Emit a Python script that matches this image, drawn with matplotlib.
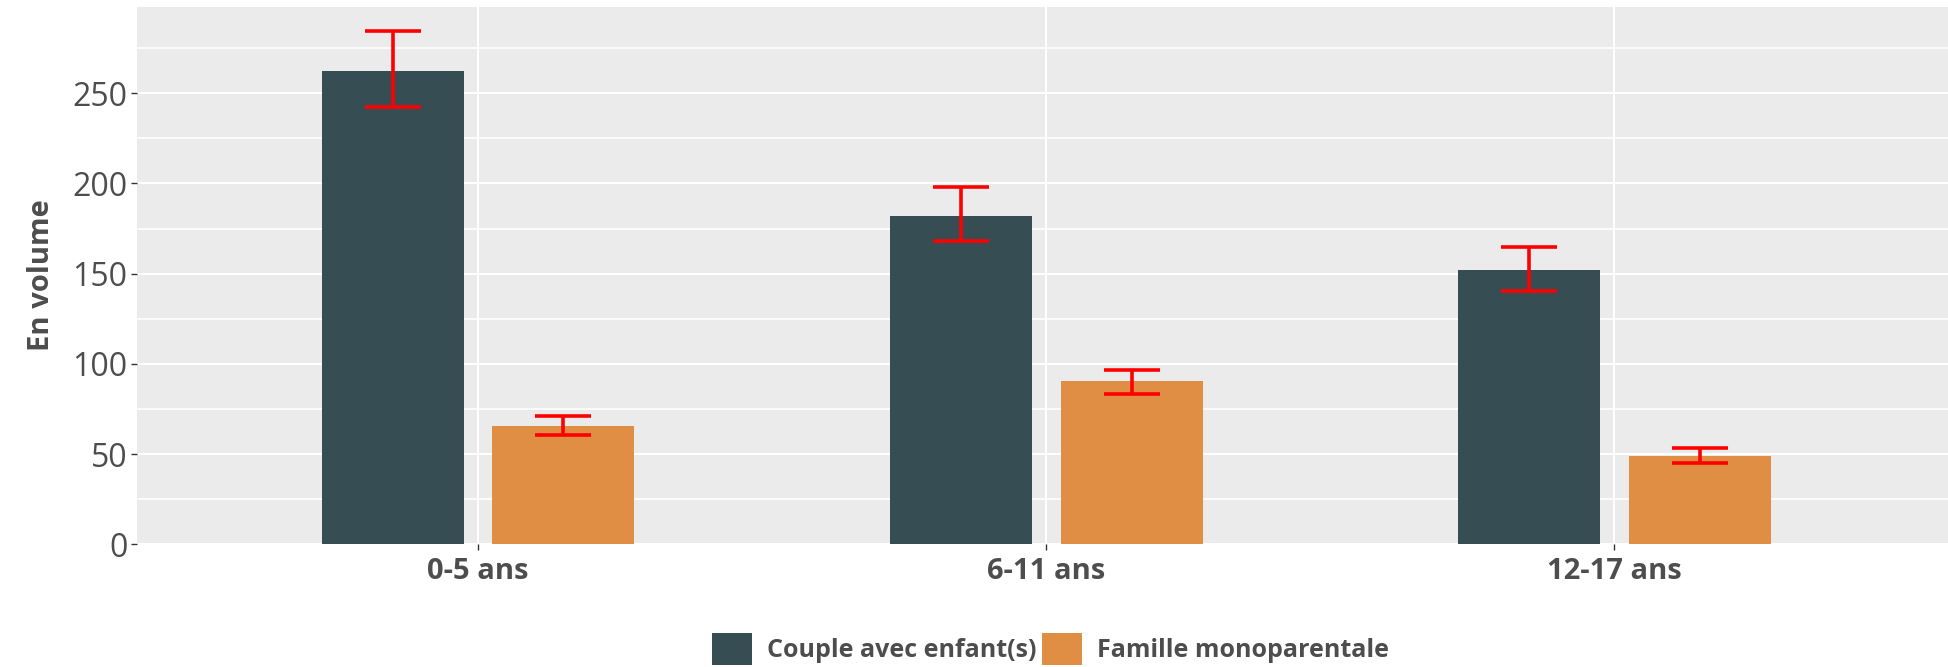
import matplotlib.pyplot as plt
import numpy as np
from matplotlib.patches import Patch

# Data
categories = ['0-5 ans', '6-11 ans', '12-17 ans']
series_names = ['Couple avec enfant(s)', 'Famille monoparentale']
couple = [262.5, 182.0, 152.3]
couple_low = [242.2, 168.0, 140.3]
couple_high = [284.5, 197.9, 164.8]
mono = [65.4, 90.4, 48.9]
mono_low = [60.6, 83.3, 45.1]
mono_high = [70.9, 96.6, 53.3]

colors = ['#374D54', '#DF8E44']
font = ['Open Sans', 'DejaVu Sans']
text_col = '#4D4D4D'

fig = plt.figure(figsize=(19.49, 6.67), dpi=100)
# panel placed to match the reference (slightly wider than the figure on the right)
ax = fig.add_axes([137.3 / 1949, 122.7 / 667, 1818 / 1949, 537.6 / 667])
ax.set_facecolor('#EBEBEB')
for s in ax.spines.values():
    s.set_visible(False)

x = np.arange(len(categories))
width = 0.25
offset = 0.15

for vals, lo, hi, col, dx in [(couple, couple_low, couple_high, colors[0], -offset),
                              (mono, mono_low, mono_high, colors[1], offset)]:
    vals = np.array(vals)
    ax.bar(x + dx, vals, width, color=col, zorder=3)
    yerr = np.vstack([vals - np.array(lo), np.array(hi) - vals])
    ax.errorbar(x + dx, vals, yerr=yerr, fmt='none', ecolor='#FF0000',
                elinewidth=2.6, capsize=20.5, capthick=2.6, zorder=4)

ax.set_xlim(-0.6, 2.6)
ax.set_ylim(0, 298)
ax.set_yticks([0, 50, 100, 150, 200, 250])
ax.set_yticks(np.arange(25, 300, 50), minor=True)
ax.set_xticks(x)
ax.set_xticklabels(categories)

ax.grid(True, which='major', color='white', linewidth=1.5, zorder=0)
ax.grid(True, which='minor', axis='y', color='white', linewidth=1.2, zorder=0)
ax.set_axisbelow(True)

ax.tick_params(axis='y', which='major', labelsize=23, labelcolor=text_col,
               color='#333333', length=4, width=1, pad=3)
ax.tick_params(axis='x', which='major', labelsize=21, labelcolor=text_col,
               color='#333333', length=4, width=1, pad=5)
ax.tick_params(which='minor', length=0)
for lab in ax.get_yticklabels():
    lab.set_fontfamily(font)
for lab in ax.get_xticklabels():
    lab.set_fontfamily(font)
    lab.set_fontweight('bold')

ax.set_ylabel('En volume', fontsize=21, fontweight='bold', color=text_col,
              family=font, labelpad=12)

handles = [Patch(facecolor=c, edgecolor='none') for c in colors]
fig.legend(handles, series_names, loc='center', bbox_to_anchor=(0.539, 18 / 667),
           ncol=2, frameon=False, handlelength=1.6, handleheight=1.6,
           handletextpad=0.6, columnspacing=0.25,
           prop={'family': font, 'weight': 'bold', 'size': 18})
for t in fig.legends[0].get_texts():
    t.set_color(text_col)

plt.savefig('out.png', dpi=100)
plt.close()
